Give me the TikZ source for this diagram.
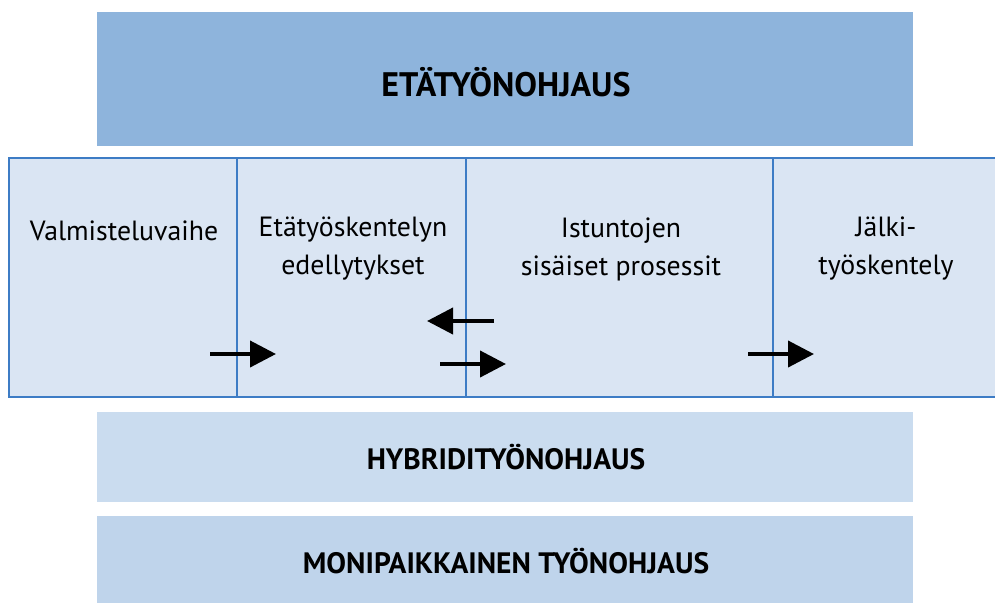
\documentclass[tikz,border=0pt]{standalone}
\usepackage{fontspec}
\setmainfont{PT Sans}
\usetikzlibrary{arrows.meta}
\definecolor{topblue}{HTML}{8EB4DC}
\definecolor{bandfill}{HTML}{DAE5F3}
\definecolor{bandline}{HTML}{3D7CC5}
\definecolor{hybfill}{HTML}{CADCEF}
\definecolor{monifill}{HTML}{BFD4EB}
\tikzset{
  banner/.style={inner sep=0pt, font=\bfseries},
  celltext/.style={align=center, font=\fontsize{27.8}{38}\selectfont, inner sep=0pt},
  flow/.style={line width=4pt, -{Triangle[length=26pt,width=26pt]}, black},
}
\begin{document}
\begin{tikzpicture}[x=1pt,y=-1pt]
\useasboundingbox (0,0) rectangle (995,603);
% top banner
\fill[topblue] (97,12) rectangle (913,146);
\node[banner, font=\bfseries\fontsize{34}{38}\selectfont] (eta) at (506,82) {ETÄTYÖNOHJAUS};
% band
\fill[bandfill] (9,158) rectangle (997,397);
\draw[bandline, line width=2pt] (997,158) -- (9,158) -- (9,397) -- (997,397);
\foreach \xx in {237,466,773} \draw[bandline, line width=2pt] (\xx,158) -- (\xx,397);
\node[celltext] (c1) at (124,231) {Valmisteluvaihe};
\node[celltext] (c2) at (353,249) {Etätyöskentelyn\\edellytykset};
\node[celltext] (c3) at (621,249) {Istuntojen\\sisäiset prosessit};
\node[celltext] (c4) at (886,249) {Jälki-\\työskentely};
% arrows
\coordinate (a1s) at (210,354); \coordinate (a1e) at (276,354);
\coordinate (a2s) at (494,321); \coordinate (a2e) at (427,321);
\coordinate (a3s) at (440,364); \coordinate (a3e) at (506,364);
\coordinate (a4s) at (748,354); \coordinate (a4e) at (814,354);
\draw[flow] (a1s) -- (a1e);
\draw[flow] (a2s) -- (a2e);
\draw[flow] (a3s) -- (a3e);
\draw[flow] (a4s) -- (a4e);
% lower banners
\fill[hybfill] (97,412) rectangle (913,502);
\node[banner, font=\bfseries\fontsize{29.5}{33}\selectfont] (hyb) at (506,457) {HYBRIDITYÖNOHJAUS};
\fill[monifill] (97,516) rectangle (913,603);
\node[banner, font=\bfseries\fontsize{29.5}{33}\selectfont] (moni) at (506,561) {MONIPAIKKAINEN TYÖNOHJAUS};
\end{tikzpicture}
\end{document}
